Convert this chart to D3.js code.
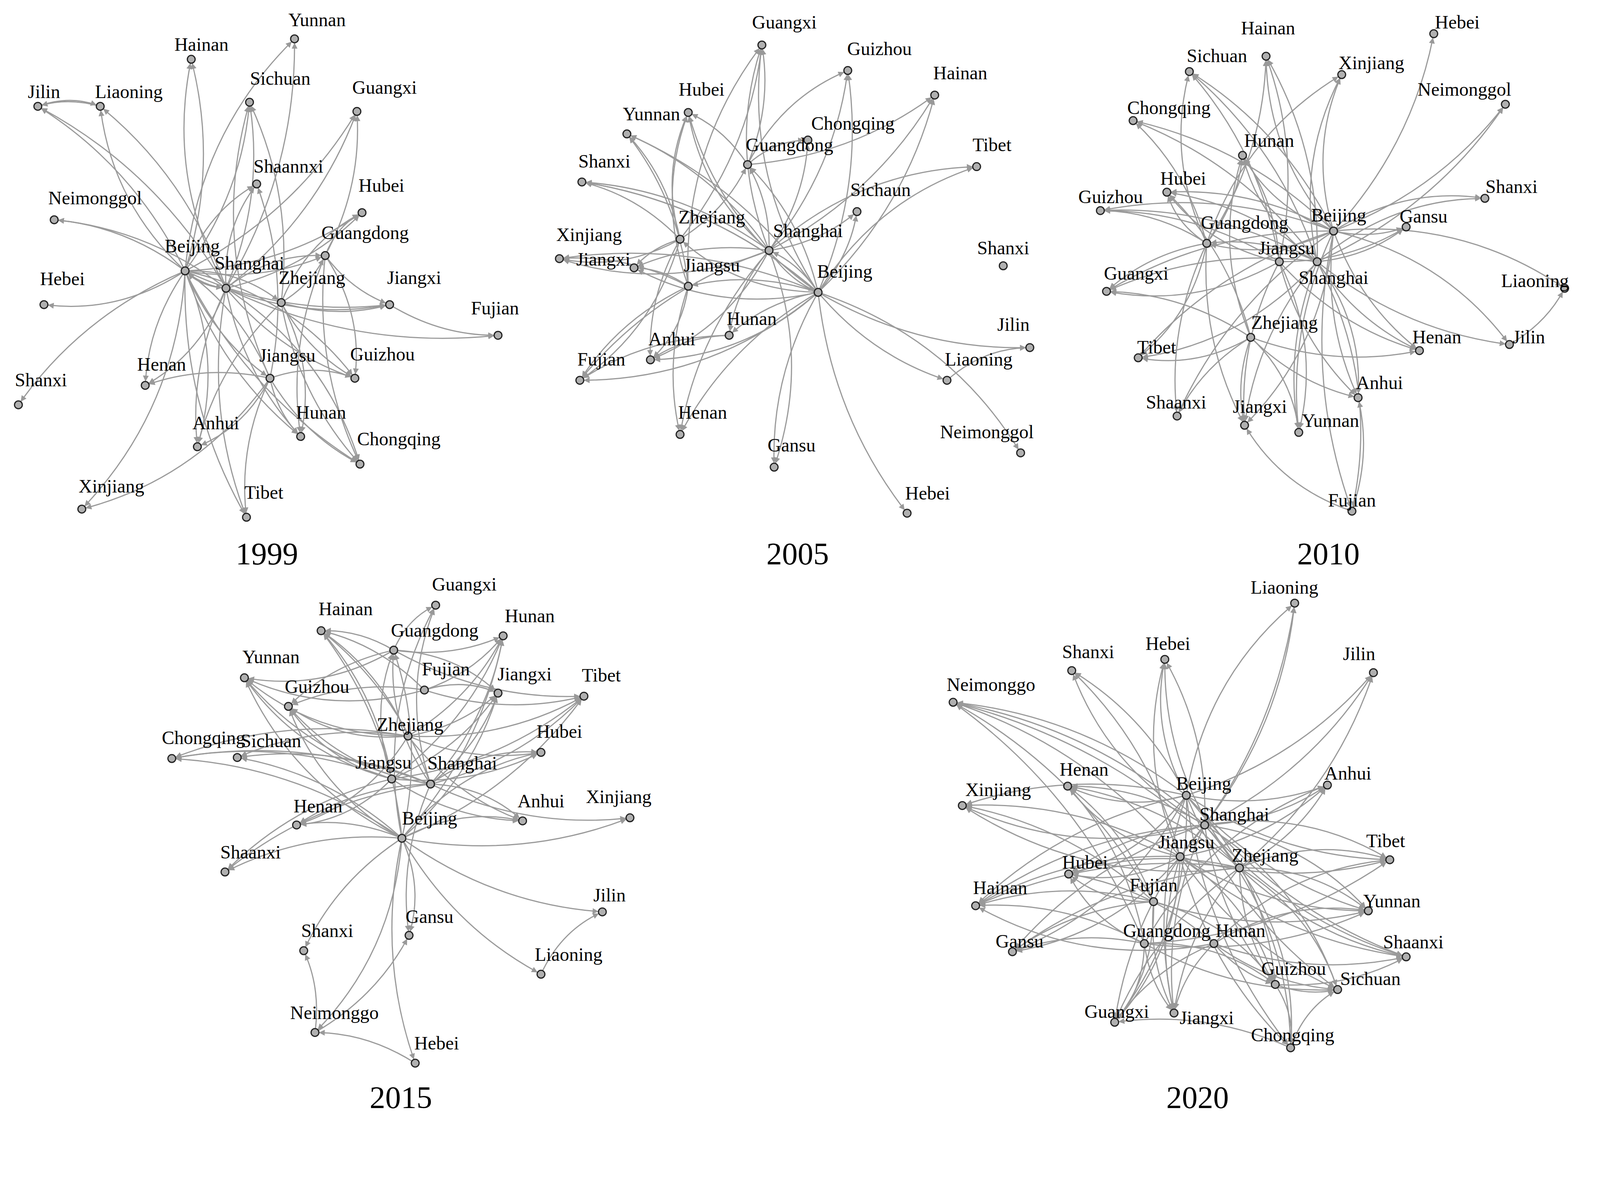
<!DOCTYPE html>
<html><head><meta charset="utf-8">
<script src="https://cdn.jsdelivr.net/npm/d3@7"></script>
<style>body{margin:0;background:#fff}</style></head>
<body><svg id="c"></svg>
<script>
// node: [name, x, y, labelX, labelY] in reference-view units
const nodes1999 = [["Yunnan",288,38,310,20],["Hainan",187,58,197,44],["Jilin",37,104,43,90],["Liaoning",98,104,126,90],["Sichuan",244,100,274,77],["Guangxi",349,109,376,86],["Shaannxi",251,180,282,163],["Hubei",354,208,373,182],["Neimonggol",53,215,93,194],["Guangdong",318,250,357,228],["Beijing",181,265,188,241],["Shanghai",221,282,244,258],["Zhejiang",275,296,305,272],["Jiangxi",381,298,405,272],["Fujian",487,328,484,302],["Hebei",43,298,61,273],["Jiangsu",264,370,281,348],["Guizhou",347,370,374,347],["Henan",142,377,158,357],["Shanxi",18,396,40,372],["Anhui",193,437,211,414],["Hunan",294,427,314,404],["Chongqing",352,454,390,430],["Xinjiang",80,498,109,476],["Tibet",241,506,258,482]];
const nodes2005 = [["Guangxi",745,44,767,22],["Guizhou",829,69,860,48],["Hainan",914,93,939,72],["Hubei",673,110,686,88],["Yunnan",613,131,637,112],["Chongqing",790,137,834,121],["Guangdong",731,161,772,142],["Tibet",955,163,970,142],["Shanxi",569,178,591,158],["Sichaun",838,207,861,186],["Zhejiang",665,234,696,213],["Xinjiang",547,253,576,230],["Shanghai",752,245,790,226],["Shanxi ",981,260,981,243],["Jiangxi",620,262,590,254],["Jiangsu",673,280,696,260],["Beijing",800,286,826,266],["Hunan",713,328,735,312],["Anhui",636,352,657,332],["Jilin",1007,340,991,318],["Liaoning",926,372,957,352],["Fujian",567,372,588,352],["Henan",665,425,687,404],["Gansu",757,457,774,436],["Neimonggol",998,443,965,423],["Hebei",887,502,907,483]];
const nodes2010 = [["Hainan",1238,55,1240,28],["Hebei",1402,33,1425,22],["Sichuan",1163,70,1190,55],["Xinjiang",1312,73,1341,62],["Chongqing",1108,118,1143,106],["Neimonggol",1472,102,1432,88],["Hunan",1215,152,1241,138],["Hubei",1141,188,1157,175],["Guizhou",1076,206,1086,193],["Shanxi",1452,194,1478,183],["Gansu",1375,222,1392,212],["Beijing",1304,226,1309,211],["Guangdong",1180,238,1217,218],["Jiangsu",1251,256,1258,243],["Shanghai",1288,256,1304,272],["Guangxi",1082,285,1111,268],["Liaoning",1530,282,1501,275],["Tibet",1113,350,1131,340],["Zhejiang",1223,330,1256,316],["Henan",1388,343,1405,330],["Jilin",1476,337,1495,330],["Anhui",1328,389,1349,375],["Shaanxi",1151,407,1150,394],["Jiangxi",1217,416,1232,398],["Yunnan",1270,423,1301,412],["Fujian",1322,500,1322,490]];
const nodes2015 = [["Guangxi",426,592,454,572],["Hainan",314,617,338,596],["Guangdong",385,636,425,617],["Hunan",492,622,518,603],["Yunnan",239,663,265,643],["Fujian",415,675,436,655],["Jiangxi",487,678,513,660],["Tibet",571,681,588,661],["Guizhou",282,691,310,672],["Chongqing",168,742,199,722],["Sichuan",232,741,265,725],["Zhejiang",399,720,401,709],["Hubei",529,736,547,716],["Jiangsu",383,762,375,746],["Shanghai",421,767,452,747],["Xinjiang",616,800,605,780],["Henan",290,807,311,789],["Anhui",511,803,529,784],["Beijing",393,820,420,801],["Shaanxi",220,853,245,834],["Jilin",589,892,596,876],["Gansu",400,915,420,897],["Shanxi",297,930,320,911],["Liaoning",529,953,556,934],["Neimonggo",308,1010,327,991],["Hebei",406,1040,427,1021]];
const nodes2020 = [["Liaoning",1266,590,1256,575],["Jilin",1343,658,1329,640],["Shanxi",1048,656,1064,638],["Hebei",1139,645,1142,630],["Neimonggo",932,687,969,670],["Xinjiang",941,788,976,773],["Henan",1044,769,1060,753],["Beijing",1160,778,1177,767],["Anhui",1298,768,1318,757],["Shanghai",1178,807,1207,797],["Jiangsu",1154,838,1160,824],["Zhejiang",1212,849,1237,837],["Tibet",1359,841,1355,823],["Hubei",1045,855,1061,844],["Hainan",954,886,978,869],["Fujian",1128,882,1128,866],["Yunnan",1338,891,1361,882],["Gansu",990,931,997,921],["Guangdong",1119,923,1141,911],["Hunan",1187,923,1213,911],["Shaanxi",1375,936,1382,922],["Guizhou",1247,963,1265,948],["Sichuan",1308,968,1340,958],["Guangxi",1090,1000,1092,990],["Jiangxi",1148,991,1180,996],["Chongqing",1262,1025,1264,1013]];

// edges: [source, "target target ..."]
const edges1999 = [["Beijing","Yunnan Hainan Jilin Liaoning Sichuan Guangxi Shaannxi Hubei Neimonggol Hebei Shanxi Henan Anhui Hunan Chongqing Xinjiang Tibet Jiangxi Guizhou Guangdong Shanghai Zhejiang Jiangsu"],["Shanghai","Yunnan Hainan Sichuan Guangxi Shaannxi Hubei Neimonggol Guangdong Jiangxi Fujian Henan Anhui Hunan Chongqing Tibet Guizhou Beijing Jilin Liaoning"],["Jiangsu","Anhui Henan Hunan Guizhou Tibet Shaannxi Sichuan Beijing Chongqing Xinjiang"],["Zhejiang","Jiangxi Guizhou Hubei Guangdong Anhui Hunan Chongqing Sichuan"],["Guangdong","Hubei Guangxi Hunan Guizhou Chongqing Jiangxi"],["Jilin","Liaoning"],["Liaoning","Jilin"],["Jiangxi","Fujian"]];
const edges2005 = [["Beijing","Guangxi Guizhou Hainan Hubei Yunnan Guangdong Tibet Shanxi Sichaun Zhejiang Xinjiang Shanxi  Jiangxi Jiangsu Hunan Anhui Jilin Liaoning Fujian Henan Gansu Neimonggol Hebei Shanghai"],["Shanghai","Guangxi Guizhou Hainan Hubei Yunnan Guangdong Tibet Shanxi Sichaun Xinjiang Jiangxi Hunan Anhui Fujian Henan Gansu Beijing Chongqing"],["Zhejiang","Hubei Yunnan Guangdong Xinjiang Jiangxi Anhui Fujian Shanxi Guangxi"],["Jiangsu","Hubei Yunnan Jiangxi Anhui Fujian Henan Guangxi Xinjiang"],["Guangdong","Guangxi Guizhou Hainan Hubei Chongqing"],["Hunan","Fujian Anhui"],["Liaoning","Jilin"]];
const edges2010 = [["Beijing","Hainan Hebei Sichuan Xinjiang Chongqing Neimonggol Hunan Hubei Guizhou Shanxi Gansu Guangxi Liaoning Tibet Henan Jilin Anhui Shaanxi Jiangxi Yunnan Fujian Guangdong"],["Shanghai","Hainan Sichuan Xinjiang Chongqing Neimonggol Hunan Hubei Guizhou Shanxi Gansu Guangxi Tibet Henan Jilin Anhui Jiangxi Yunnan Fujian Guangdong"],["Guangdong","Hainan Sichuan Chongqing Hunan Hubei Guizhou Guangxi Tibet Shaanxi Jiangxi Xinjiang"],["Jiangsu","Hainan Hunan Hubei Guizhou Gansu Guangxi Henan Anhui Yunnan Jiangxi Sichuan"],["Zhejiang","Hunan Hubei Guangxi Tibet Shaanxi Jiangxi Yunnan Anhui Henan"],["Fujian","Jiangxi Anhui"],["Jilin","Liaoning"]];
const edges2015 = [["Beijing","Guangxi Hainan Hunan Yunnan Jiangxi Tibet Guizhou Chongqing Sichuan Hubei Xinjiang Henan Anhui Shaanxi Jilin Gansu Shanxi Liaoning Neimonggo Hebei Guangdong"],["Shanghai","Guangxi Hainan Hunan Yunnan Jiangxi Tibet Guizhou Chongqing Sichuan Hubei Xinjiang Henan Anhui Shaanxi Gansu Guangdong"],["Jiangsu","Hainan Hunan Yunnan Jiangxi Tibet Guizhou Chongqing Hubei Henan Anhui Shaanxi Guangdong"],["Zhejiang","Hainan Hunan Yunnan Jiangxi Tibet Guizhou Chongqing Hubei Henan Anhui Sichuan"],["Guangdong","Guangxi Hainan Hunan Jiangxi Tibet Guizhou Yunnan"],["Fujian","Hainan Hunan Jiangxi Tibet Guizhou Yunnan"],["Neimonggo","Shanxi Gansu"],["Liaoning","Jilin"],["Hebei","Neimonggo"]];
const edges2020 = [["Beijing","Liaoning Jilin Shanxi Hebei Neimonggo Xinjiang Henan Anhui Tibet Hubei Hainan Yunnan Gansu Shaanxi Sichuan Guangxi Jiangxi Chongqing Guizhou"],["Shanghai","Liaoning Jilin Shanxi Hebei Neimonggo Xinjiang Henan Anhui Tibet Hubei Hainan Yunnan Gansu Shaanxi Sichuan Guangxi Jiangxi Chongqing Guizhou"],["Jiangsu","Shanxi Hebei Neimonggo Xinjiang Henan Anhui Tibet Hubei Hainan Yunnan Gansu Shaanxi Sichuan Guangxi Jiangxi Chongqing Guizhou Liaoning"],["Zhejiang","Neimonggo Xinjiang Henan Anhui Tibet Hubei Hainan Yunnan Gansu Shaanxi Sichuan Guangxi Jiangxi Chongqing Guizhou Jilin Hebei"],["Fujian","Xinjiang Henan Hubei Hainan Gansu Guangxi Jiangxi Yunnan Guizhou Neimonggo"],["Guangdong","Henan Hubei Hainan Gansu Guangxi Jiangxi Yunnan Guizhou Sichuan Tibet Anhui Neimonggo"],["Hunan","Hubei Hainan Guangxi Jiangxi Yunnan Guizhou Sichuan Tibet Shaanxi"],["Guizhou","Sichuan Chongqing Shaanxi"],["Chongqing","Guangxi Sichuan"]];

const years = ["1999","2005","2010","2015","2020"];
const yearPos = [[261,542],[780,542],[1299,542],[392,1074],[1171,1074]];
const panels = [[nodes1999,edges1999],[nodes2005,edges2005],[nodes2010,edges2010],[nodes2015,edges2015],[nodes2020,edges2020]];

const W=4393,H=3057;
const sx=d3.scaleLinear([0,1678],[0,W]), sy=d3.scaleLinear([0,1168],[0,H]);
const svg=d3.select("#c").attr("width",W).attr("height",H);
svg.append("rect").attr("width",W).attr("height",H).attr("fill","#fff");
svg.append("defs").append("marker").attr("id","ar").attr("viewBox","0 0 10 10")
  .attr("refX",10).attr("refY",5).attr("markerWidth",7).attr("markerHeight",5).attr("orient","auto")
  .attr("markerUnits","strokeWidth").append("path").attr("d","M0,0L10,5L0,10z").attr("fill","#999");
const R=10;
panels.forEach(([nodes,edges],pi)=>{
  const g=svg.append("g");
  const pos=new Map(nodes.map(n=>[n[0],[sx(n[1]),sy(n[2])]]));
  const eg=g.append("g");
  let k=0;
  edges.forEach(([s,ts])=>{
    ts.split(" ").filter(t=>t).forEach(t=>{
      const key = pos.has(t)?t:(pos.has(t+" ")?t+" ":null);
      if(!key||!pos.has(s))return;
      const [x1,y1]=pos.get(s),[x2,y2]=pos.get(key);
      const dx=x2-x1,dy=y2-y1;
      const c=((k++)%3===0?-0.18:0.14);
      const cx=(x1+x2)/2-dy*c, cy=(y1+y2)/2+dx*c;
      const d=Math.hypot(x2-cx,y2-cy);
      const ex=x2-(x2-cx)/d*R, ey=y2-(y2-cy)/d*R;
      eg.append("path").attr("d",`M${x1},${y1}Q${cx},${cy} ${ex},${ey}`)
        .attr("fill","none").attr("stroke","#9a9a9a").attr("stroke-width",3).attr("marker-end","url(#ar)");
    });
  });
  g.selectAll("circle").data(nodes).join("circle").attr("cx",d=>sx(d[1])).attr("cy",d=>sy(d[2])).attr("r",R)
    .attr("fill","#b0b0b0").attr("stroke","#222").attr("stroke-width",3);
  g.selectAll("text").data(nodes).join("text").attr("x",d=>sx(d[3])).attr("y",d=>sy(d[4])+15)
    .attr("text-anchor","middle").attr("font-family","Liberation Serif, serif").attr("font-size",48)
    .attr("fill","#000").text(d=>d[0].trim());
  svg.append("text").attr("x",sx(yearPos[pi][0])).attr("y",sy(yearPos[pi][1])+26).attr("text-anchor","middle")
    .attr("font-family","Liberation Serif, serif").attr("font-size",80).attr("fill","#000").text(years[pi]);
});
</script></body></html>
